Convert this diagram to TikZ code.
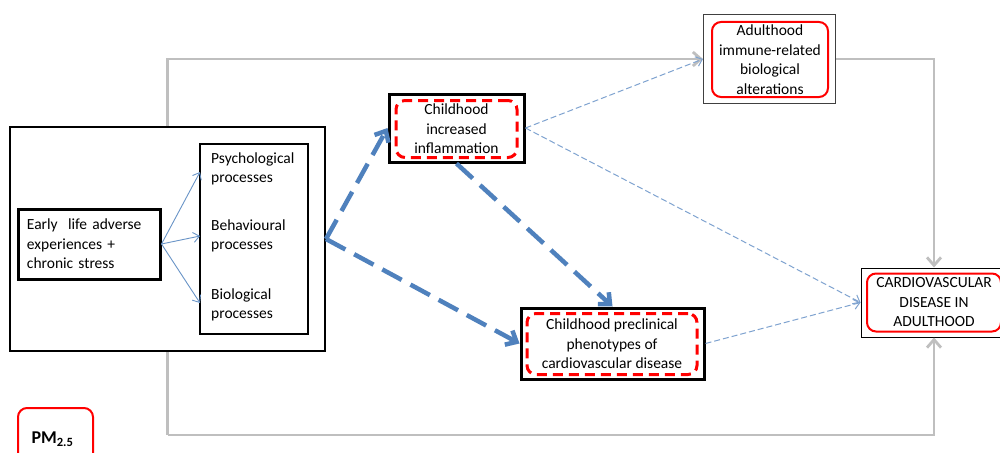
\documentclass[tikz,border=0pt]{standalone}
\usepackage{fontspec}
\setmainfont{Carlito}
\usetikzlibrary{arrows.meta}
\definecolor{lgray}{HTML}{BFBFBF}
\definecolor{dblue}{HTML}{4F81BD}
\definecolor{lblue}{HTML}{7FA3D0}
\definecolor{rred}{HTML}{FF0000}
\begin{document}
\begin{tikzpicture}[x=1pt,y=-1pt,
  txt/.style={font=\fontsize{15.5}{19.5}\selectfont, text=black},
  plainbox/.style={draw=black, inner sep=0pt},
  reddash/.style={draw=rred, line width=3pt, dash pattern=on 10pt off 6pt, rounded corners=9pt, inner sep=0.5pt},
  redsolid/.style={draw=rred, line width=2pt, rounded corners=9pt, inner sep=0.5pt},
  grayline/.style={draw=lgray, line width=2.8pt, -{Straight Barb[length=8pt,width=14pt]}},
  grayplain/.style={draw=lgray, line width=2.8pt},
  thickdash/.style={draw=dblue, line width=4.5pt, dash pattern=on 22pt off 10pt, -{Straight Barb[length=9pt,width=16pt]}},
  thindash/.style={draw=lblue, line width=1pt, dash pattern=on 6pt off 3pt, -{Straight Barb[length=6pt,width=10pt]}},
  thinarrow/.style={draw=dblue!85, line width=0.9pt, -{Straight Barb[length=6pt,width=10pt]}}
]
\useasboundingbox (0,0) rectangle (1000,452);
\fill[white] (0,0) rectangle (1000,452);

% left group
\node[plainbox, line width=2pt, minimum width=315, minimum height=224] (outer) at (167.5,239) {};
\node[plainbox, line width=3pt, minimum width=142, minimum height=70, txt, align=left, text width=124, inner xsep=9pt] (early) at (89,244) {Early\ \ life adverse\\experiences +\\chronic stress};
\node[plainbox, line width=2.5pt, minimum width=108, minimum height=190] (proc) at (254,239) {};
\node[txt, anchor=west, align=left, inner sep=1pt] (psy) at (210,169) {Psychological\\processes};
\node[txt, anchor=west, align=left, inner sep=1pt] (beh) at (210,236) {Behavioural\\processes};
\node[txt, anchor=west, align=left, inner sep=1pt] (bio) at (210,305) {Biological\\processes};
\coordinate (p1) at (200,172);
\coordinate (p2) at (200,236);
\coordinate (p3) at (200,303);

% childhood inflammation
\node[plainbox, line width=3pt, minimum width=135, minimum height=68] (infl) at (456.5,128) {};
\node[reddash, minimum width=121, minimum height=57, txt, align=center] (inflin) at (456.5,129) {Childhood\\increased\\inflammation};

% adulthood immune
\node[plainbox, draw=black!75, line width=1pt, minimum width=132, minimum height=88] (adult) at (769.5,59) {};
\node[redsolid, minimum width=116, minimum height=75, txt, align=center] (adultin) at (770,59.5) {Adulthood\\immune-related\\biological\\alterations};

% preclinical
\node[plainbox, line width=3pt, minimum width=183, minimum height=71] (precl) at (612.5,343.5) {};
\node[reddash, minimum width=170, minimum height=61, txt, align=center] (preclin) at (612,344) {Childhood preclinical\\phenotypes of\\cardiovascular disease};

% CVD
\node[plainbox, line width=1pt, minimum width=146, minimum height=69] (cvd) at (934,302.5) {};
\node[redsolid, minimum width=134, minimum height=58, txt, align=center] (cvdin) at (934,302.5) {CARDIOVASCULAR\\DISEASE IN\\ADULTHOOD};

% PM2.5
\node[redsolid, minimum width=75, minimum height=62, font=\fontsize{18}{20}\selectfont\bfseries, text=black] (pm) at (55.5,439) {\hspace*{-6pt}PM\textsubscript{2.5}};

% gray connectors
\draw[grayline] (outer.north) |- (adult.west);
\draw[grayline] (adult.east) -| (cvd.north);
\coordinate (bl) at (167.5,435);
\draw[grayplain] (outer.south) -- (bl);
\draw[grayline] (bl) -| (cvd.south);

% thin arrows to processes
\draw[thinarrow] (early.east) -- (p1);
\draw[thinarrow] (early.east) -- (p2);
\draw[thinarrow] (early.east) -- (p3);

% thick dashed blue
\draw[thickdash] (outer.east) -- (infl.west);
\draw[thickdash] (outer.east) -- (precl.west);
\draw[thickdash] (infl.south) -- (precl.north);

% thin dashed blue
\draw[thindash] (infl.east) -- (adult.west);
\draw[thindash] (infl.east) -- (cvd.west);
\draw[thindash] (precl.east) -- (cvd.west);
\end{tikzpicture}
\end{document}
